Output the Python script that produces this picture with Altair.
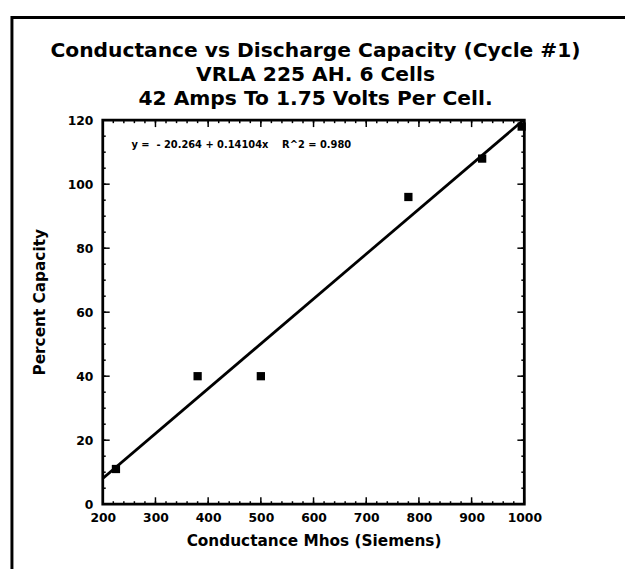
import altair as alt
import pandas as pd

# data
conductance = [225, 380, 500, 780, 920, 995]
percent_capacity = [11, 40, 40, 96, 108, 118]

x_major_ticks = [200, 300, 400, 500, 600, 700, 800, 900, 1000]
x_minor_ticks = list(range(200, 1001, 20))
y_major_ticks = [0, 20, 40, 60, 80, 100, 120]
y_minor_ticks = list(range(0, 121, 5))

title_lines = [
    "Conductance vs Discharge Capacity (Cycle #1)",
    "VRLA 225 AH. 6 Cells",
    "42 Amps To 1.75 Volts Per Cell.",
]
NB = "\u00a0"
equation_text = f"y ={NB*2}-{NB}20.264 + 0.14104x{NB*4}R^2 = 0.980"
x_title = "Conductance Mhos (Siemens)"
y_title = "Percent Capacity"

W, H = 427, 389
FONT = "DejaVu Sans"

pts = pd.DataFrame({"x": conductance, "y": percent_capacity})

xscale = alt.Scale(domain=[200, 1000], nice=False, zero=False)
yscale = alt.Scale(domain=[0, 120], nice=False, zero=False)

xaxis = alt.Axis(
    values=x_major_ticks, ticks=False, domain=False, grid=False, format="d",
    labelFlush=False, labelBound=False,
    labelFont=FONT, labelFontSize=12.5, labelFontWeight="bold", labelColor="black",
    labelPadding=8, title=x_title, titleFont=FONT, titleFontSize=15.5,
    titleFontWeight="bold", titleColor="black", titlePadding=9,
)
yaxis = alt.Axis(
    values=y_major_ticks, ticks=False, domain=False, grid=False, format="d",
    labelFlush=False, labelBound=False,
    labelFont=FONT, labelFontSize=12.5, labelFontWeight="bold", labelColor="black",
    labelPadding=10, title=y_title, titleFont=FONT, titleFontSize=15.5,
    titleFontWeight="bold", titleColor="black", titlePadding=20, titleY=184,
)


def X(field="x"):
    return alt.X(f"{field}:Q", scale=xscale, axis=xaxis, title=x_title)


def Y(field="y"):
    return alt.Y(f"{field}:Q", scale=yscale, axis=yaxis, title=y_title)


points = alt.Chart(pts).mark_square(size=70, color="black", opacity=1).encode(
    x=X(), y=Y(),
)

reg = alt.Chart(pts).transform_regression(
    "x", "y", extent=[200, 1000]
).mark_line(color="black", strokeWidth=2.8, clip=True).encode(x=X(), y=Y())


def xticks(vals, length):
    df = pd.DataFrame({"x": vals})
    bottom = alt.Chart(df).mark_rule(color="black", strokeWidth=1.5).encode(
        x=X(), y=alt.value(H), y2=alt.value(H - length),
    )
    top = alt.Chart(df).mark_rule(color="black", strokeWidth=1.5).encode(
        x=X(), y=alt.value(0), y2=alt.value(length),
    )
    return [bottom, top]


def yticks(vals, length):
    df = pd.DataFrame({"y": vals})
    left = alt.Chart(df).mark_rule(color="black", strokeWidth=1.5).encode(
        y=Y(), x=alt.value(0), x2=alt.value(length),
    )
    right = alt.Chart(df).mark_rule(color="black", strokeWidth=1.5).encode(
        y=Y(), x=alt.value(W), x2=alt.value(W - length),
    )
    return [left, right]


eq = alt.Chart(pd.DataFrame({"t": [equation_text]})).mark_text(
    font=FONT, fontSize=10, fontWeight="bold", align="left", baseline="middle",
    color="black",
).encode(text="t:N", x=alt.value(29), y=alt.value(25))

title_layers = []
for i, line in enumerate(title_lines):
    title_layers.append(
        alt.Chart(pd.DataFrame({"t": [line]})).mark_text(
            font=FONT, fontSize=20.5, fontWeight="bold", align="center",
            baseline="middle", color="black",
        ).encode(text="t:N", x=alt.value(W / 2 + 2), y=alt.value(-70 + 24.3 * i))
    )

frame = alt.Chart(pd.DataFrame({"a": [0]})).mark_rect(
    fill=None, stroke="black", strokeWidth=3, clip=False
).encode(
    x=alt.value(-92), x2=alt.value(W + 200),
    y=alt.value(-104), y2=alt.value(H + 200),
)

layers = [frame, reg, points, eq] + title_layers
layers += xticks(x_major_ticks, 7) + xticks(x_minor_ticks, 3)
layers += yticks(y_major_ticks, 7) + yticks(y_minor_ticks, 3)

chart = alt.layer(*layers).properties(
    width=W, height=H,
    background="white",
    autosize=alt.AutoSizeParams(type="none"),
    padding={"left": 96, "top": 110, "right": 102, "bottom": 62},
).configure_view(stroke="black", strokeWidth=2.8)

chart.save("out.html", embed_options={"renderer": "svg", "actions": False})
